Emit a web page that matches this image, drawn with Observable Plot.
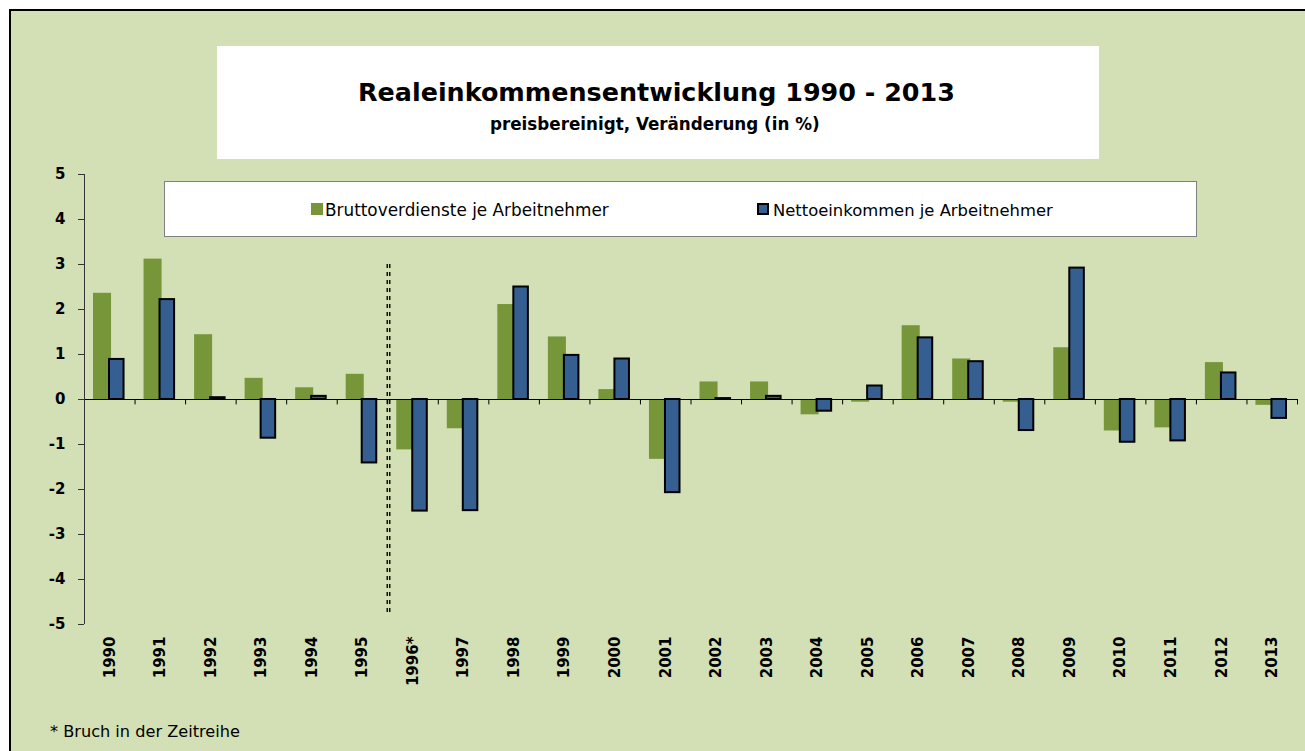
<!DOCTYPE html>
<html>
<head>
<meta charset="utf-8">
<script src="https://cdn.jsdelivr.net/npm/d3@7"></script>
<script src="https://cdn.jsdelivr.net/npm/@observablehq/plot@0.6"></script>
<style>
  html, body { margin: 0; padding: 0; background: #ffffff; width: 1305px; height: 751px; overflow: hidden; }
  #frame { position: absolute; left: 9px; top: 9px; width: 1310px; height: 760px; background: #D3DFB5;
           border-left: 2px solid #000; border-top: 2px solid #000; box-sizing: border-box; }
  #chart { position: absolute; left: 0; top: 0; }
  #titlebox { position: absolute; left: 217px; top: 46px; width: 882px; height: 113px; background: #fff; }
  #legend { position: absolute; left: 164px; top: 181px; width: 1033px; height: 56px; background: #fff;
            border: 1px solid #808080; box-sizing: border-box; }
  .txt { position: absolute; white-space: nowrap; line-height: normal; font-family: "DejaVu Sans", sans-serif; color: #000; }
  .sw { position: absolute; box-sizing: border-box; }
</style>
</head>
<body>
<div id="frame"></div>
<div id="chart"></div>
<div id="titlebox"></div>
<div id="legend"></div>
<script>
// ---- data ----
const years = ["1990","1991","1992","1993","1994","1995","1996*","1997","1998","1999","2000","2001",
               "2002","2003","2004","2005","2006","2007","2008","2009","2010","2011","2012","2013"];
const bruttoverdienste = [2.36, 3.12, 1.44, 0.47, 0.26, 0.56, -1.12, -0.65, 2.11, 1.39, 0.22, -1.33,
                          0.39, 0.39, -0.34, -0.06, 1.64, 0.90, -0.06, 1.15, -0.70, -0.63, 0.82, -0.13];
const nettoeinkommen = [0.89, 2.22, 0.04, -0.86, 0.07, -1.41, -2.48, -2.47, 2.50, 0.98, 0.90, -2.07,
                        0.02, 0.07, -0.26, 0.30, 1.37, 0.84, -0.69, 2.92, -0.95, -0.92, 0.59, -0.42];
const seriesNames = ["Bruttoverdienste je Arbeitnehmer", "Nettoeinkommen je Arbeitnehmer"];
const yTicks = [-5, -4, -3, -2, -1, 0, 1, 2, 3, 4, 5];
const breakYear = "1996*";
const titleText = "Realeinkommensentwicklung 1990 - 2013";
const subtitleText = "preisbereinigt, Veränderung (in %)";
const footnoteText = "* Bruch in der Zeitreihe";

// ---- styles ----
const colors = ["#77963A", "#365F91"];
const W = 1305, H = 751, mL = 84, mR = 8, mT = 174, mB = 127;
const bw = (W - mL - mR) / years.length;

const table = years.map((y, i) => ({year: y, brutto: bruttoverdienste[i], netto: nettoeinkommen[i]}));

const plot = Plot.plot({
  width: W, height: H,
  marginLeft: mL, marginRight: mR, marginTop: mT, marginBottom: mB,
  style: {background: "transparent", fontFamily: "DejaVu Sans, sans-serif", color: "#000"},
  x: {type: "band", domain: years, padding: 0, round: false, label: null},
  y: {domain: [-5, 5], ticks: yTicks, label: null},
  marks: [
    Plot.barY(table, {x: "year", y: "brutto", fill: colors[0], insetLeft: 9, insetRight: 23.5}),
    Plot.barY(table, {x: "year", y: "netto", fill: colors[1], stroke: "#000", strokeWidth: 2,
                      insetLeft: 25, insetRight: 11}),
    Plot.ruleY([0], {stroke: "#000", strokeWidth: 1}),
    Plot.ruleX(years, {x: d => d, y1: 0, y2: -0.12, dx: -bw / 2, stroke: "#000"}),
    Plot.ruleX([years[years.length - 1]], {x: d => d, y1: 0, y2: -0.12, dx: bw / 2, stroke: "#000"}),
    Plot.ruleX([years[0]], {x: d => d, y1: -5, y2: 5, dx: -bw / 2, stroke: "#333"}),
    Plot.ruleX([breakYear], {x: d => d, y1: 3.0, y2: -4.75, dx: -bw / 2 - 0.5, stroke: "#000",
                             strokeWidth: 1.4, strokeDasharray: "4,4"}),
    Plot.ruleX([breakYear], {x: d => d, y1: 3.0, y2: -4.75, dx: -bw / 2 + 2, stroke: "#000",
                             strokeWidth: 1.4, strokeDasharray: "4,4"}),
    Plot.axisY({ticks: yTicks, tickSize: 6, tickPadding: 13, fontSize: 15, fontWeight: "bold",
                tickFormat: d => String(d), label: null, stroke: "#333"}),
    Plot.axisX({tickRotate: -90, tickSize: 0, tickPadding: 12, fontSize: 15, fontWeight: "bold", label: null})
  ]
});
document.getElementById("chart").appendChild(plot);

// ---- text placement (sizes fitted to the reference widths) ----
const ctx = document.createElement("canvas").getContext("2d");
function fitSize(text, weight, target) {
  ctx.font = `${weight} 100px "DejaVu Sans"`;
  return 100 * target / ctx.measureText(text).width;
}
function addText(text, weight, xLeft, width, baseline, parent) {
  const fs = fitSize(text, weight, width);
  const el = document.createElement("div");
  el.className = "txt";
  el.textContent = text;
  el.style.fontSize = fs + "px";
  el.style.fontWeight = weight;
  el.style.left = xLeft + "px";
  el.style.top = (baseline - 0.928 * fs) + "px";
  (parent || document.body).appendChild(el);
  return el;
}
addText(titleText, "bold", 358, 597, 101);
addText(subtitleText, "bold", 490, 330, 130);
addText(footnoteText, "normal", 50, 190, 737);

// legend
const legendX = [[311, 325, 284], [757, 773, 280]];
seriesNames.forEach((name, i) => {
  const sw = document.createElement("div");
  sw.className = "sw";
  sw.style.left = legendX[i][0] + "px";
  sw.style.top = "203px";
  sw.style.width = "12px";
  sw.style.height = "12px";
  sw.style.background = colors[i];
  if (i === 1) sw.style.border = "2px solid #000";
  document.body.appendChild(sw);
  addText(name, "normal", legendX[i][1], legendX[i][2], 216);
});
</script>
</body>
</html>
